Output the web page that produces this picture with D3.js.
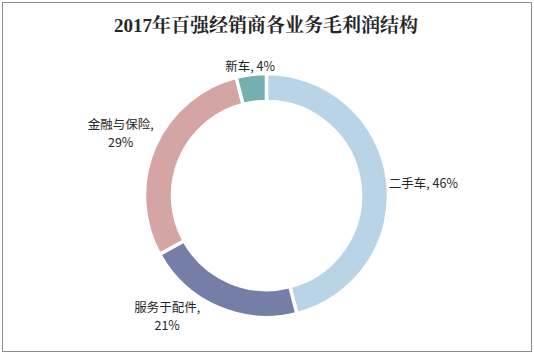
<!DOCTYPE html>
<html><head><meta charset="utf-8">
<script src="https://cdn.jsdelivr.net/npm/d3@7/dist/d3.min.js"></script>
<style>html,body{margin:0;padding:0;background:#fff;}svg{display:block;}</style>
</head><body>
<svg id="chart" width="534" height="356"></svg>
<script>
const title = "2017年百强经销商各业务毛利润结构";
const categories = ["二手车", "服务于配件", "金融与保险", "新车"];
const values = [46, 21, 29, 4];
const colors = ["#b8d4e6", "#747ea6", "#d5a4a5", "#74b0b2"];

const W = 534, H = 356;
const svg = d3.select("#chart");
svg.append("rect").attr("x", 2.5).attr("y", 2.5).attr("width", W - 5).attr("height", H - 7)
  .attr("fill", "#fff").attr("stroke", "#8c8c8c").attr("stroke-width", 1);

svg.append("text").attr("x", 266).attr("y", 32).attr("text-anchor", "middle")
  .attr("font-family", "'Liberation Serif','Noto Serif CJK SC','Noto Sans CJK SC',serif")
  .attr("font-weight", "bold").attr("font-size", 19).attr("fill", "#262626").text(title);

const cx = 266.5, cy = 195.5, rOuter = 122, rInner = 94;
const pie = d3.pie().sort(null).value(d => d)(values);
const arc = d3.arc().innerRadius(rInner).outerRadius(rOuter);
const g = svg.append("g").attr("transform", `translate(${cx},${cy})`);
g.selectAll("path").data(pie).join("path")
  .attr("d", arc).attr("fill", (d, i) => colors[i])
  .attr("stroke", "#fff").attr("stroke-width", 3.5).attr("stroke-linejoin", "miter");

const labelLines = pie.map((d, i) => {
  const mid = (d.startAngle + d.endAngle) / 2;
  if (Math.sin(mid) < -0.3) return [categories[i] + ",", values[i] + "%"];
  return [categories[i] + ", " + values[i] + "%"];
});
const nudge = {"服务于配件": [-44, -8], "二手车": [0, 7]};
const R = rOuter + 1, lh = 18.5;
pie.forEach((d, i) => {
  const mid = (d.startAngle + d.endAngle) / 2;
  const ux = Math.sin(mid), uy = -Math.cos(mid);
  const lines = labelLines[i];
  const ts = lines.map(s => g.append("text").attr("font-family", "'Noto Sans CJK SC','Noto Sans',sans-serif")
    .attr("font-size", 12.5).attr("fill", "#262626").attr("text-anchor", "middle")
    .attr("dominant-baseline", "central").text(s));
  const w = d3.max(ts, t => t.node().getBBox().width);
  const h = lines.length * 15;
  const tt = Math.min((w / 2) / Math.max(Math.abs(ux), 1e-6), (h / 2) / Math.max(Math.abs(uy), 1e-6));
  const n = nudge[categories[i]] || [0, 0];
  const px = R * ux + tt * ux + n[0];
  const py = R * uy + tt * uy + n[1];
  const top = py - ((lines.length - 1) * lh) / 2;
  ts.forEach((t, k) => t.attr("x", px).attr("y", top + k * lh));
});
</script>
</body></html>
